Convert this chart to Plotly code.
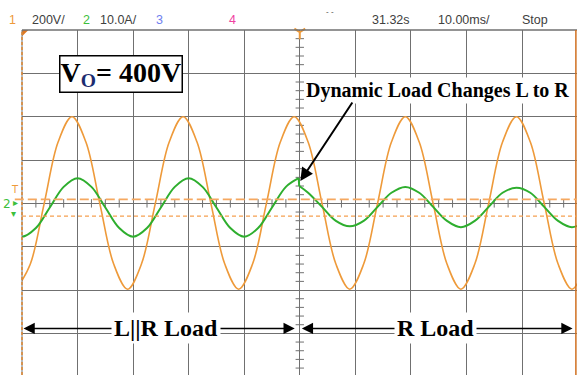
import plotly.graph_objects as go

# ---------------- data (time in ms, voltage in V, current in A) ----------------
t_v = [-1, 1.5, 4, 6.5, 9, 11.5, 14, 16.5, 19, 21.5, 24, 26.5, 29, 31.5, 34, 36.5,
       39, 41.5, 44, 46.5, 49, 51.5, 54, 56.5, 59, 61.5, 64, 66.5, 69, 71.5, 74, 76.5,
       79, 81.5, 84, 86.5, 89, 91.5, 94, 96.5, 99, 101.5]
v_out = [-396, -280, 0, 283, 400, 283, 0, -280, -396, -280, 0, 283, 400, 283, 0, -280,
         -396, -280, 0, 283, 400, 283, 0, -280, -396, -280, 0, 283, 400, 283, 0, -280,
         -396, -280, 0, 283, 400, 283, 0, -280, -396, -280]

# current with L||R load (before the change)
t_i_lr = [-2.5, 0, 2.5, 5, 7.5, 10, 12.5, 15, 17.5, 20, 22.5, 25, 27.5, 30, 32.5, 35,
          37.5, 40, 42.5, 45, 47.5, 49.8]
i_lr = [-5.7, -7.7, -5.7, -0.95, 3.8, 5.8, 3.8, -0.95, -5.7, -7.7, -5.7, -0.95, 3.8, 5.8,
        3.8, -0.95, -5.7, -7.7, -5.7, -0.95, 3.8, 5.8]
# step at the load change
t_step = [49.8, 49.9]
i_step = [5.8, 4.0]
# current with R load (after the change)
t_i_r = [49.9, 51.5, 54, 56.5, 59, 61.5, 64, 66.5, 69, 71.5, 74, 76.5, 79, 81.5, 84, 86.5,
         89, 91.5, 94, 96.5, 99, 101.5]
i_r = [4.0, 2.45, -0.8, -4.05, -5.3, -4.05, -0.8, 2.45, 3.8, 2.45, -0.8, -4.05, -5.5,
       -4.05, -0.8, 2.45, 3.6, 2.45, -0.8, -4.05, -5.5, -4.05]

cursor_levels = [18.5, -58.6]          # V
header_labels = ["1", "200V/", "2", "10.0A/", "3", "4", "31.32s", "10.00ms/", "Stop"]
vo_label = "V<sub>O</sub>= 400V"
event_label = "Dynamic Load Changes L to R"
region_labels = ["L||R Load", "R Load"]

# ---------------- styling / geometry ----------------
W, H = 577, 375
ML, MT = 22, 30
PW, PH = W - ML, H - MT
ORANGE = "#EE9A3A"
GREEN = "#2EAE2E"
GRID = "#707070"
X_RANGE = [0, 99.9]
Y_RANGE = [-792, 800]
Y2_RANGE = [-39.6, 40]


def paper(xp, yp):
    return (xp - ML) / PW, (H - yp) / PH


fig = go.Figure()

# center-line minor ticks
minor_x = [2.5 * k for k in range(1, 40) if k % 4 != 0]
minor_y = [40 * k for k in range(-19, 20) if k % 5 != 0]
fig.add_trace(go.Scatter(x=minor_x, y=[0] * len(minor_x), mode="markers",
                         marker=dict(symbol="line-ns", size=6, line=dict(color=GRID, width=1)),
                         hoverinfo="skip"))
fig.add_trace(go.Scatter(x=[50] * len(minor_y), y=minor_y, mode="markers",
                         marker=dict(symbol="line-ew", size=6, line=dict(color=GRID, width=1)),
                         hoverinfo="skip"))

# waveforms
fig.add_trace(go.Scatter(x=t_v, y=v_out, mode="lines", line=dict(color=ORANGE, width=1.6, shape="spline")))
fig.add_trace(go.Scatter(x=t_i_lr, y=i_lr, yaxis="y2", mode="lines",
                         line=dict(color=GREEN, width=2, shape="spline")))
fig.add_trace(go.Scatter(x=t_step, y=i_step, yaxis="y2", mode="lines",
                         line=dict(color=GREEN, width=2)))
fig.add_trace(go.Scatter(x=t_i_r, y=i_r, yaxis="y2", mode="lines",
                         line=dict(color=GREEN, width=2, shape="spline")))

# markers on frame
fig.add_trace(go.Scatter(x=[50], y=[Y_RANGE[1] - 10], mode="markers", cliponaxis=False,
                         marker=dict(symbol="y-down-open", size=9, color=ORANGE,
                                     line=dict(color=ORANGE, width=2))))
fig.add_trace(go.Scatter(x=[0.4], y=[Y_RANGE[1] - 10], mode="markers", cliponaxis=False,
                         marker=dict(symbol="triangle-nw", size=7, color="#E07820",
                                     line=dict(width=0))))

shapes = []
# top frame line
shapes.append(dict(type="line", xref="paper", yref="paper", x0=0, x1=1, y0=1, y1=1,
                   line=dict(color=GRID, width=1.5)))
# left edge: gray + orange dashed
shapes.append(dict(type="line", xref="paper", yref="paper", x0=0, x1=0, y0=0, y1=1,
                   line=dict(color=GRID, width=1)))
shapes.append(dict(type="line", xref="paper", yref="paper", x0=0, x1=0, y0=0, y1=1,
                   line=dict(color="#E08830", width=1.5, dash="3px,2px")))
# right edge orange
shapes.append(dict(type="line", xref="paper", yref="paper", x0=0.998, x1=0.998, y0=0, y1=1,
                   line=dict(color="#D07020", width=1.5)))
# cursors
shapes.append(dict(type="line", xref="paper", yref="y", x0=-0.013, x1=1, y0=cursor_levels[0],
                   y1=cursor_levels[0], line=dict(color="#F5A860", width=1.6, dash="9px,4px")))
shapes.append(dict(type="line", xref="paper", yref="y", x0=0, x1=1, y0=cursor_levels[1],
                   y1=cursor_levels[1], line=dict(color="#F5A050", width=1.3, dash="4px,3px")))

annotations = []
# header
header_pos = [12, 48.5, 86, 118, 159, 232, 391, 464, 535]
header_col = [ORANGE, "#404040", "#3CBF3C", "#404040", "#7080F0", "#F040A0", "#404040", "#404040", "#404040"]
for lab, xp, col in zip(header_labels, header_pos, header_col):
    px_, py_ = paper(xp, 20)
    annotations.append(dict(xref="paper", yref="paper", x=px_, y=py_, text=lab, showarrow=False,
                            xanchor="center", yanchor="middle",
                            font=dict(family="Liberation Sans", size=12.5, color=col)))
px_, py_ = paper(330, 11)
annotations.append(dict(xref="paper", yref="paper", x=px_, y=py_, text="- -", showarrow=False,
                        xanchor="center", yanchor="middle",
                        font=dict(family="Liberation Sans", size=8, color="#404040")))

# left side markers
for txt, xp, yp, col, sz in [("T", 15, 190, ORANGE, 10), ("2", 7, 204, "#3CBF3C", 12),
                             ("▸", 15, 203, "#3CBF3C", 10), ("▾", 13, 213, "#3CBF3C", 10)]:
    px_, py_ = paper(xp, yp)
    annotations.append(dict(xref="paper", yref="paper", x=px_, y=py_, text=txt, showarrow=False,
                            xanchor="center", yanchor="middle",
                            font=dict(family="DejaVu Sans", size=sz, color=col)))

# V_O box
annotations.append(dict(x=17.8, y=597, text="<b>V<sub><span style='color:#1c2c70'>O</span></sub>= 400V</b>",
                        showarrow=False, bgcolor="white", bordercolor="black", borderwidth=1.5,
                        borderpad=0, xanchor="center", yanchor="middle",
                        font=dict(family="Liberation Serif", size=28, color="black")))
# event label and arrow
annotations.append(dict(x=74.8, y=523, text="<b>" + event_label + "</b>", showarrow=False,
                        bgcolor="white", borderpad=1, xanchor="center", yanchor="middle",
                        font=dict(family="Liberation Serif", size=20, color="black")))
annotations.append(dict(x=50.1, y=103, ax=53, ay=-80, text="", showarrow=True, arrowhead=2,
                        arrowsize=1.3, arrowwidth=2, arrowcolor="black"))
# region arrows
YB = -577
annotations.append(dict(x=49.1, y=YB, ax=0, ay=YB, axref="x", ayref="y", text="", showarrow=True,
                        arrowside="end+start", arrowhead=2, arrowsize=1.5, arrowwidth=1.5,
                        arrowcolor="black"))
annotations.append(dict(x=99.1, y=YB, ax=50.1, ay=YB, axref="x", ayref="y", text="", showarrow=True,
                        arrowside="end+start", arrowhead=2, arrowsize=1.5, arrowwidth=1.5,
                        arrowcolor="black"))
annotations.append(dict(x=26.0, y=YB, text="<b>" + region_labels[0] + "</b>", showarrow=False,
                        bgcolor="white", borderpad=2, xanchor="center", yanchor="middle",
                        font=dict(family="Liberation Serif", size=24, color="black")))
annotations.append(dict(x=74.5, y=YB, text="<b>" + region_labels[1] + "</b>", showarrow=False,
                        bgcolor="white", borderpad=2, xanchor="center", yanchor="middle",
                        font=dict(family="Liberation Serif", size=24, color="black")))

fig.update_layout(
    width=W, height=H, margin=dict(l=ML, r=0, t=MT, b=0),
    paper_bgcolor="white", plot_bgcolor="white", showlegend=False,
    xaxis=dict(range=X_RANGE, dtick=10, tick0=0, showgrid=True, gridcolor=GRID, gridwidth=1,
               zeroline=False, showticklabels=False, ticks="", showline=False),
    yaxis=dict(range=Y_RANGE, dtick=200, tick0=0, showgrid=True, gridcolor=GRID, gridwidth=1,
               zeroline=True, zerolinecolor=GRID, zerolinewidth=1, showticklabels=False, ticks=""),
    yaxis2=dict(range=Y2_RANGE, overlaying="y", visible=False),
    shapes=shapes, annotations=annotations,
)

fig.write_html("out.html")
